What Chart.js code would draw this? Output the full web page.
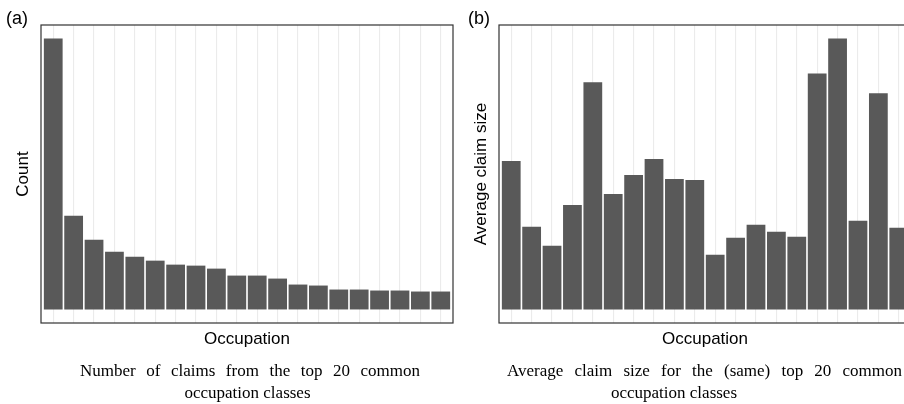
<!DOCTYPE html>
<html>
<head>
<meta charset="utf-8">
<script src="https://cdn.jsdelivr.net/npm/chart.js@4.4.1/dist/chart.umd.min.js"></script>
<style>
  html, body { margin: 0; padding: 0; background: #fff; overflow: hidden; width: 904px; height: 404px; }
  .panel { position: absolute; top: 0; width: 460px; height: 404px; }
</style>
</head>
<body>
<div class="panel" style="left:0"><canvas id="countChart" width="460" height="404"></canvas></div>
<div class="panel" style="left:458px"><canvas id="sizeChart" width="460" height="404"></canvas></div>
<script>
// top 20 occupation classes (unlabelled in the figure)
const occupations = ["C01", "C02", "C03", "C04", "C05", "C06", "C07", "C08", "C09", "C10",
                     "C11", "C12", "C13", "C14", "C15", "C16", "C17", "C18", "C19", "C20"];
const claimCounts = [816, 282, 210, 174, 159, 147, 135, 132, 123, 102,
                     102, 93, 75, 72, 60, 60, 57, 57, 54, 54];
const avgClaimSize = [447, 249, 192, 315, 684, 348, 405, 453, 393, 390,
                      165, 216, 255, 234, 219, 711, 816, 267, 651, 246];

const SANS = '"Liberation Sans", Arial, Helvetica, sans-serif';
const SERIF = '"Liberation Serif", "Times New Roman", serif';

// spread the words of a line so it fills [left, right]
function justifyLine(ctx, text, left, right, y) {
  const words = text.split(" ");
  const widths = words.map(w => ctx.measureText(w).width);
  const gap = (right - left - widths.reduce((a, b) => a + b, 0)) / (words.length - 1);
  let x = left;
  ctx.textAlign = "left";
  words.forEach((w, i) => {
    ctx.fillText(w, x, y);
    x += widths[i] + gap;
  });
}

const panelDecor = {
  id: "panelDecor",
  afterDraw(chart, args, opts) {
    const { ctx, chartArea: a } = chart;
    ctx.save();
    ctx.strokeStyle = "#333333";
    ctx.lineWidth = 1.2;
    ctx.strokeRect(a.left, a.top, a.right - a.left, a.bottom - a.top);

    ctx.fillStyle = "#000";
    ctx.textBaseline = "alphabetic";
    ctx.font = "18px " + SANS;
    ctx.textAlign = "left";
    ctx.fillText(opts.tag, opts.tagX, 24);

    ctx.font = "17px " + SERIF;
    justifyLine(ctx, opts.caption[0], opts.line1[0], opts.line1[1], 376);
    ctx.textAlign = "center";
    ctx.fillText(opts.caption[1], opts.line2Center, 397.5);
    ctx.restore();
  },
};

function makePanel(id, values, yTitle, decor) {
  const top = Math.max(...values);
  return new Chart(document.getElementById(id), {
    type: "bar",
    data: {
      labels: occupations,
      datasets: [
        {
          data: values.map((v, i) => ({ x: i + 1, y: v })),
          backgroundColor: "#595959",
          borderWidth: 0,
          categoryPercentage: 1,
          barPercentage: 0.92,
        },
      ],
    },
    options: {
      responsive: false,
      animation: false,
      layout: { padding: { top: 25, right: 7, bottom: 0, left: 0 } },
      plugins: {
        legend: { display: false },
        tooltip: { enabled: false },
        panelDecor: decor,
      },
      scales: {
        x: {
          type: "linear",
          min: 0.4,
          max: occupations.length + 0.6,
          offset: false,
          afterBuildTicks: (s) => {
            s.ticks = occupations.map((_, i) => ({ value: i + 1 }));
          },
          afterFit: (s) => { s.height = 81; },
          ticks: { display: false },
          border: { display: false },
          grid: { offset: false, color: "#ebebeb", lineWidth: 1.1, drawTicks: false },
          title: {
            display: true,
            text: "Occupation",
            color: "#000",
            font: { family: SANS, size: 17 },
            padding: { top: 0, bottom: 54 },
          },
        },
        y: {
          min: -0.05 * top,
          max: 1.05 * top,
          afterFit: (s) => { s.width = 41; },
          ticks: { display: false },
          border: { display: false },
          grid: { display: false },
          title: {
            display: true,
            text: yTitle,
            color: "#000",
            font: { family: SANS, size: 17 },
            padding: { top: 13, bottom: 0 },
          },
        },
      },
    },
    plugins: [panelDecor],
  });
}

makePanel("countChart", claimCounts, "Count", {
  tag: "(a)",
  tagX: 6,
  caption: ["Number of claims from the top 20 common", "occupation classes"],
  line1: [80, 420],
  line2Center: 247.5,
});

makePanel("sizeChart", avgClaimSize, "Average claim size", {
  tag: "(b)",
  tagX: 10,
  caption: ["Average claim size for the (same) top 20 common", "occupation classes"],
  line1: [49, 444],
  line2Center: 216,
});
</script>
</body>
</html>
